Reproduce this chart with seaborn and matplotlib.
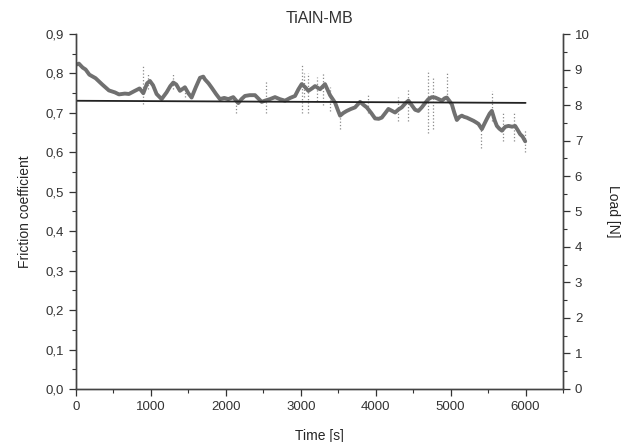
import matplotlib
matplotlib.use("Agg")
import matplotlib.pyplot as plt
import seaborn as sns
import numpy as np
import pandas as pd
from matplotlib.ticker import MultipleLocator, FuncFormatter

# ---- data ----
time_s = [0, 40, 90, 130, 180, 263, 352, 441, 521, 575, 654, 708, 788, 850, 900, 950, 988,
          1030, 1077, 1144, 1210, 1260, 1300, 1340, 1389, 1455, 1500, 1544, 1600, 1656, 1700,
          1722, 1770, 1812, 1870, 1922, 1980, 2034, 2100, 2167, 2210, 2256, 2320, 2390, 2479,
          2523, 2590, 2657, 2720, 2790, 2860, 2924, 2970, 3013, 3060, 3102, 3150, 3191, 3258,
          3324, 3391, 3458, 3500, 3525, 3570, 3614, 3670, 3725, 3792, 3840, 3881, 3940, 3992,
          4040, 4081, 4130, 4170, 4220, 4259, 4300, 4348, 4400, 4437, 4480, 4526, 4570, 4615,
          4660, 4704, 4750, 4793, 4840, 4882, 4920, 4949, 4985, 5016, 5050, 5083, 5120, 5150,
          5180, 5216, 5260, 5305, 5340, 5372, 5417, 5450, 5484, 5520, 5550, 5590, 5617, 5650,
          5684, 5730, 5773, 5820, 5861, 5900, 5928, 5960, 5995]
friction = [0.822, 0.825, 0.815, 0.810, 0.797, 0.788, 0.772, 0.757, 0.752, 0.747, 0.749, 0.748,
            0.756, 0.762, 0.750, 0.775, 0.781, 0.770, 0.748, 0.735, 0.752, 0.768, 0.777, 0.772,
            0.756, 0.765, 0.750, 0.739, 0.765, 0.789, 0.792, 0.785, 0.775, 0.764, 0.748, 0.735,
            0.738, 0.735, 0.740, 0.725, 0.735, 0.743, 0.745, 0.745, 0.728, 0.731, 0.735, 0.740,
            0.735, 0.731, 0.738, 0.743, 0.760, 0.773, 0.765, 0.756, 0.762, 0.768, 0.760, 0.773,
            0.745, 0.726, 0.705, 0.693, 0.700, 0.705, 0.710, 0.714, 0.728, 0.720, 0.714, 0.700,
            0.686, 0.685, 0.688, 0.700, 0.710, 0.705, 0.701, 0.708, 0.714, 0.725, 0.731, 0.720,
            0.708, 0.705, 0.714, 0.725, 0.735, 0.740, 0.739, 0.735, 0.731, 0.737, 0.739, 0.730,
            0.722, 0.700, 0.682, 0.690, 0.693, 0.690, 0.688, 0.684, 0.680, 0.676, 0.672, 0.659,
            0.672, 0.685, 0.698, 0.705, 0.680, 0.667, 0.660, 0.655, 0.665, 0.667, 0.665, 0.667,
            0.655, 0.646, 0.640, 0.628]

# scatter spikes around the trace: time, lower and upper friction reached
spike_t = [900, 960, 1300, 1455, 2130, 2540, 3013, 3040, 3102, 3220, 3300, 3391, 3525,
           3900, 4300, 4437, 4700, 4760, 4950, 5400, 5550, 5700, 5850, 5990]
spike_lo = [0.722, 0.760, 0.760, 0.740, 0.700, 0.700, 0.700, 0.740, 0.700, 0.730, 0.720, 0.705,
            0.660, 0.700, 0.680, 0.680, 0.650, 0.660, 0.730, 0.612, 0.680, 0.630, 0.630, 0.600]
spike_hi = [0.820, 0.800, 0.800, 0.770, 0.740, 0.780, 0.823, 0.800, 0.800, 0.790, 0.800, 0.765,
            0.700, 0.745, 0.740, 0.760, 0.810, 0.790, 0.800, 0.670, 0.755, 0.700, 0.700, 0.660]

load_t = [0, 2000, 4000, 6000]
load_n = [8.12, 8.10, 8.08, 8.06]

sns.set_style("ticks")
plt.rcParams['font.family'] = ['Liberation Sans', 'DejaVu Sans']

fig = plt.figure(figsize=(6.27, 4.42), dpi=100)
ax = fig.add_axes([0.121, 0.120, 0.777, 0.803])

df = pd.DataFrame({"t": time_s, "f": friction})
ax.vlines(spike_t, spike_lo, spike_hi, colors="#8a8a8a", linestyles=":", linewidth=0.9)
sns.lineplot(data=df, x="t", y="f", ax=ax, color="#707070", linewidth=2.8)

ax.set_xlim(0, 6500)
ax.set_ylim(0, 0.9)
ax.xaxis.set_major_locator(MultipleLocator(1000))
ax.xaxis.set_minor_locator(MultipleLocator(500))
ax.yaxis.set_major_locator(MultipleLocator(0.1))
ax.yaxis.set_minor_locator(MultipleLocator(0.05))
ax.yaxis.set_major_formatter(FuncFormatter(lambda v, p: f"{v:.1f}".replace(".", ",")))
ax.set_xlabel("Time [s]", fontsize=10, labelpad=12)
ax.set_ylabel("Friction coefficient", fontsize=10, labelpad=10)
ax.set_title("TiAlN-MB", fontsize=11.5, pad=8, color="#333333")
ax.spines["top"].set_visible(False)

ax2 = ax.twinx()
ldf = pd.DataFrame({"t": load_t, "n": load_n})
sns.lineplot(data=ldf, x="t", y="n", ax=ax2, color="#222222", linewidth=1.3)
ax2.set_ylim(0, 10)
ax2.yaxis.set_major_locator(MultipleLocator(1))
ax2.yaxis.set_minor_locator(MultipleLocator(0.5))
ax2.set_ylabel("Load [N]", fontsize=10, rotation=270, labelpad=22)
ax2.spines["top"].set_visible(False)

for a in (ax, ax2):
    a.tick_params(which="major", length=5, width=0.9, labelsize=9.5, colors="#333333", labelcolor="#333333")
    a.tick_params(which="minor", length=3, width=0.8, colors="#333333")
    for s in a.spines.values():
        s.set_color("#444444")
        s.set_linewidth(1.0)

fig.savefig("out.png", dpi=100)
